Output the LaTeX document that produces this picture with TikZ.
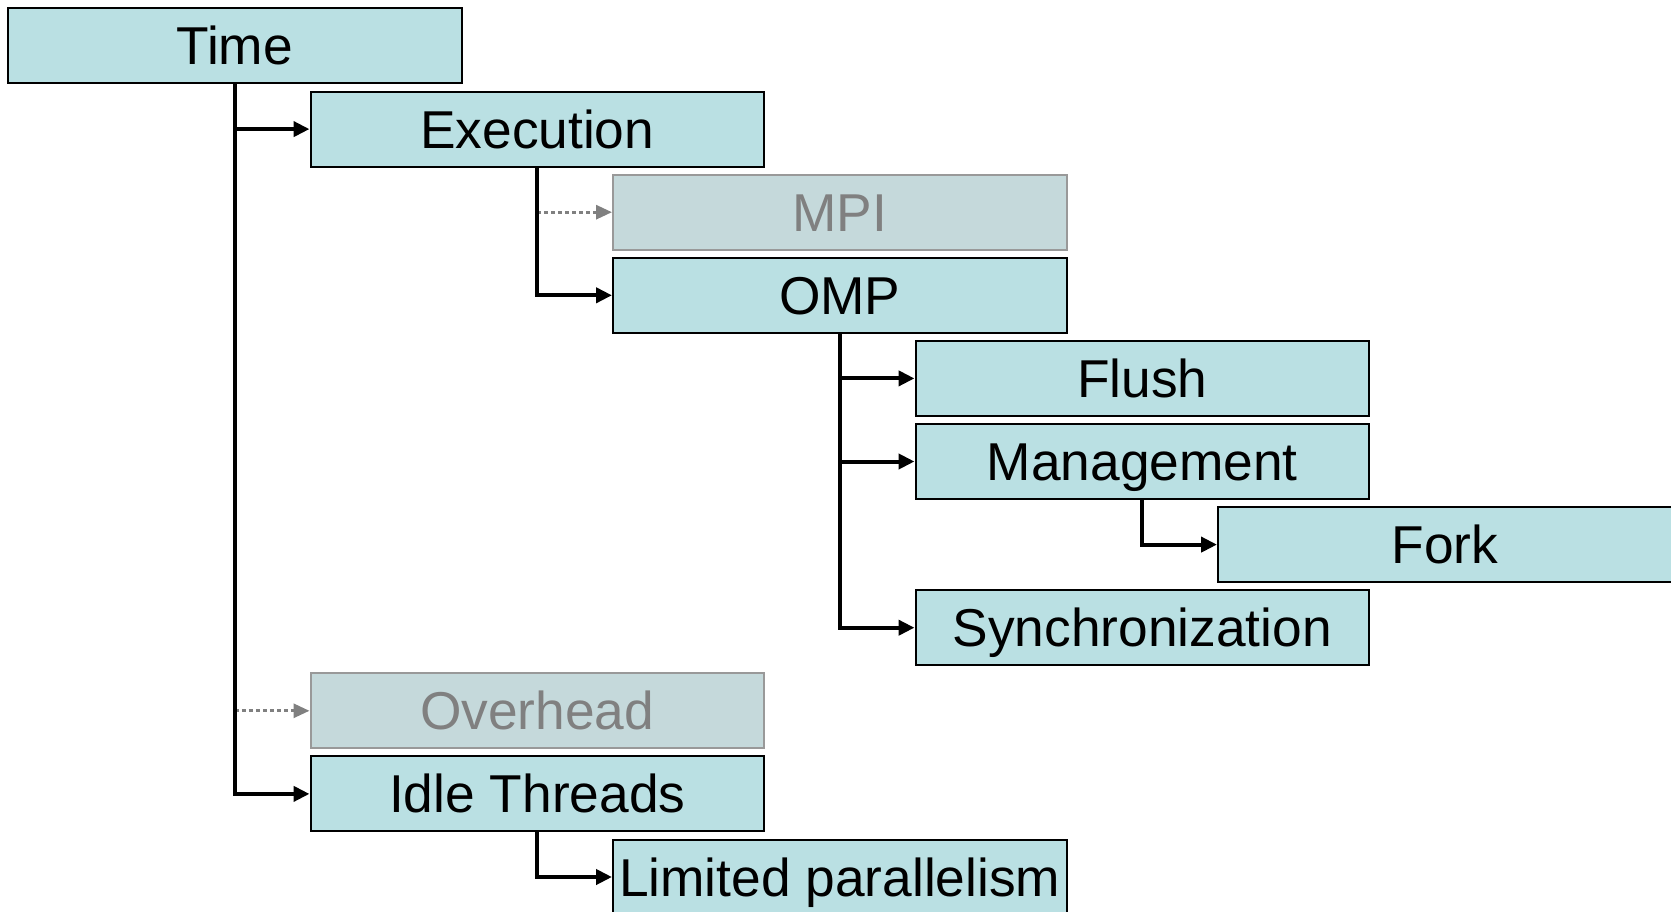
\documentclass[tikz,border=0pt]{standalone}
\usepackage{fontspec}
\setmainfont{Liberation Sans}
\usetikzlibrary{arrows.meta,calc}
\definecolor{boxfill}{HTML}{BAE0E3}
\definecolor{grayfill}{HTML}{C5D9DB}
\definecolor{grayline}{HTML}{999999}
\definecolor{graytext}{HTML}{808080}
\tikzset{
  box/.style={draw=black, line width=2pt, fill=boxfill, rectangle, inner sep=0pt,
    minimum width=453.5pt, minimum height=75pt, text height=38pt, text depth=0pt,
    font=\fontsize{53.3}{60}\selectfont},
  graybox/.style={box, draw=grayline, fill=grayfill, text=graytext},
  conn/.style={line width=4pt, -{Triangle[length=16pt,width=15pt]}},
  dotconn/.style={line width=3pt, draw=graytext, dash pattern=on 4pt off 3pt,
    -{Triangle[length=16pt,width=14pt,fill=graytext]}},
}
\begin{document}
\begin{tikzpicture}[x=1pt,y=-1pt]
\useasboundingbox (0,0) rectangle (1671,912);
\clip (0,0) rectangle (1671,912);
\node[box] (time) at (234.75,46) {Time};
\node[box] (exec) at (537.25,129.1) {Execution};
\node[graybox] (mpi) at (839.75,212.2) {MPI};
\node[box] (omp) at (839.75,295.3) {OMP};
\node[box] (flush) at (1142.25,378.4) {Flush};
\node[box] (mgmt) at (1142.25,461.5) {Management};
\node[box] (fork) at (1444.75,544.6) {Fork};
\node[box] (sync) at (1142.25,627.7) {Synchronization};
\node[graybox] (over) at (537.25,710.8) {Overhead};
\node[box] (idle) at (537.25,793.9) {Idle Threads};
\node[box] (lim) at (839.75,877) {Limited parallelism};

\draw[dotconn] (time.south |- over.west) -- (over.west);
\draw[dotconn] (exec.south |- mpi.west) -- (mpi.west);

\draw[conn] (time.south) |- (exec.west);
\draw[conn] (time.south) |- (idle.west);
\draw[conn] (exec.south) |- (omp.west);
\draw[conn] (omp.south) |- (flush.west);
\draw[conn] (omp.south) |- (mgmt.west);
\draw[conn] (omp.south) |- (sync.west);
\draw[conn] (mgmt.south) |- (fork.west);
\draw[conn] (idle.south) |- (lim.west);
\end{tikzpicture}
\end{document}
